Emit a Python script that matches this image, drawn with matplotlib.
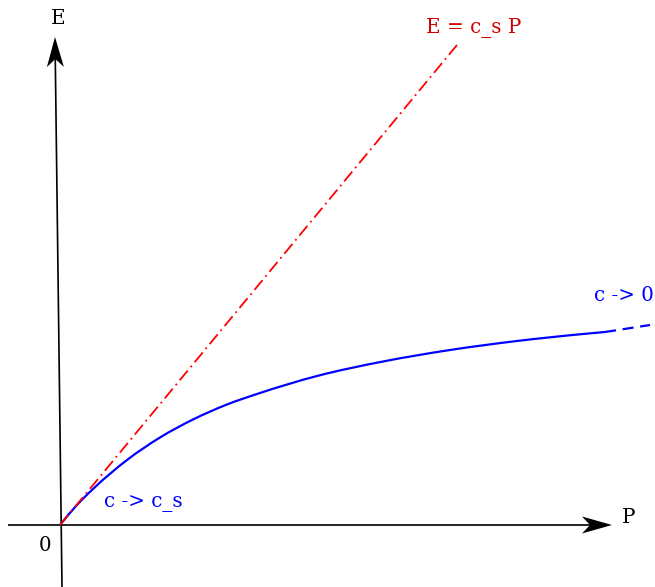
import numpy as np
import matplotlib.pyplot as plt
from matplotlib.patches import Polygon, PathPatch
from matplotlib.path import Path

# curve readings (P, E), origin at the axes crossing
p_blue = [0, 16, 33, 67, 100, 133, 167, 200, 257, 323, 390, 457, 523, 545]
e_blue = [0, 19, 36, 65, 87.5, 105.5, 120.5, 132, 149, 163.5, 175, 184, 191, 193]
p_blue_dash = [545, 590]
e_blue_dash = [193, 200]

p_red = [0, 397]
e_red = [0, 480]

# axis ends (tail, tip)
x_axis = [(-52, 0), (552, 0)]
y_axis = [(2, -62), (-5, 488)]

fig = plt.figure(figsize=(6.55, 5.87), dpi=100)
ax = fig.add_axes([0, 0, 1, 1])
ax.set_xlim(-60, 595)
ax.set_ylim(-62, 525)
ax.axis('off')

def arrow_axis(tail, tip, ax):
    (x0, y0), (x1, y1) = tail, tip
    d = np.array([x1 - x0, y1 - y0], float)
    d /= np.hypot(*d)
    n = np.array([-d[1], d[0]])
    tip = np.array([x1, y1], float)
    L, W, notch = 30, 8.5, 22
    ax.plot([x0, x1 - d[0] * notch], [y0, y1 - d[1] * notch], color='black', lw=1.2,
            solid_capstyle='butt')
    head = [tip, tip - d * L + n * W, tip - d * notch, tip - d * L - n * W]
    ax.add_patch(Polygon(head, closed=True, color='black', lw=0))

def smooth_path(xs, ys, start_slope):
    # hermite-style bezier through the read points
    x = np.asarray(xs, float)
    y = np.asarray(ys, float)
    h = np.diff(x)
    s = np.diff(y) / h
    m = np.empty_like(x)
    m[0] = start_slope
    m[-1] = s[-1]
    m[1:-1] = (h[1:] * s[:-1] + h[:-1] * s[1:]) / (h[:-1] + h[1:])
    verts = [(x[0], y[0])]
    codes = [Path.MOVETO]
    for i in range(len(x) - 1):
        dx = h[i] / 3
        verts += [(x[i] + dx, y[i] + m[i] * dx),
                  (x[i + 1] - dx, y[i + 1] - m[i + 1] * dx),
                  (x[i + 1], y[i + 1])]
        codes += [Path.CURVE4] * 3
    return Path(verts, codes)

arrow_axis(*x_axis, ax)
arrow_axis(*y_axis, ax)

ax.plot(p_red, e_red, color='red', lw=1.3, linestyle=(0, (7, 2.5, 1, 2.5)))
cs = (e_red[1] - e_red[0]) / (p_red[1] - p_red[0])
ax.add_patch(PathPatch(smooth_path(p_blue, e_blue, cs), facecolor='none',
                       edgecolor='blue', lw=1.6, capstyle='butt'))
ax.plot(p_blue_dash, e_blue_dash, color='blue', lw=1.6, linestyle=(0, (5, 3)))

font = dict(family='DejaVu Serif', fontsize=14.3, ha='center', va='baseline')
ax.text(-1.7, 501.5, 'E', **font)
ax.text(569, 1.7, 'P', **font)
ax.text(-14.5, -25.7, '0', **font)
ax.text(414, 492, 'E = c_s P', color='#d40000', **font)
ax.text(564, 224, 'c -> 0', color='blue', **font)
ax.text(83.5, 17.7, 'c -> c_s', color='blue', **font)

fig.savefig('out.png', dpi=100)
